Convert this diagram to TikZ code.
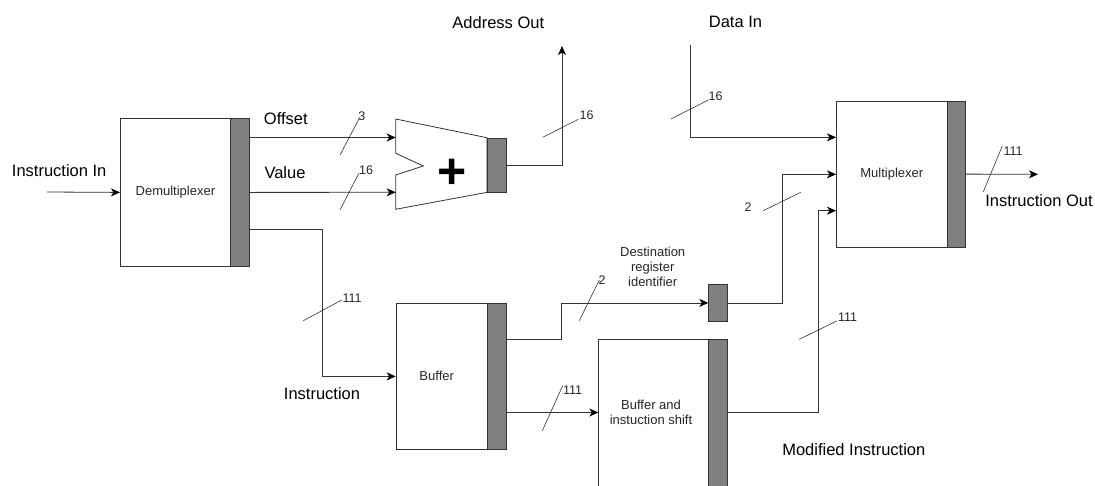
\documentclass[tikz,border=0pt]{standalone}
\usepackage{fontspec}
\setmainfont{Liberation Sans}
\usetikzlibrary{arrows.meta,calc}
\begin{document}
\begin{tikzpicture}[x=1pt,y=-1pt,
  ln/.style={draw=black!80,line width=0.8pt},
  arr/.style={ln,-{Stealth[length=9pt,width=8pt,inset=2.5pt,black]}},
  box/.style={draw=black!80,line width=0.8pt,fill=white,inner sep=0pt,anchor=north west},
  bar/.style={box,fill=black!50},
  tickln/.style={draw=black!80,line width=0.6pt},
  num/.style={font=\fontsize{12.5}{14}\selectfont,inner sep=0pt,text=black!85},
  big/.style={font=\fontsize{16.5}{19}\selectfont,inner sep=0pt},
  small/.style={font=\fontsize{13}{15}\selectfont,inner sep=0pt,text=black!85,align=center}]
\clip (0,0) rectangle (1095,485);
\fill[white] (0,0) rectangle (1095,485);

% blocks
\node[box,minimum width=110pt,minimum height=148pt] (demux) at (120,118) {};
\node[small] (demuxt) at (demux.center) {Demultiplexer};
\node[bar,minimum width=18.5pt,minimum height=148pt] (demuxbar) at (230,118) {};

\draw[ln,fill=white] (395.7,119) -- (487,137.7) -- (487,192.3) -- (395.7,209.3) -- (395.7,175) -- (423.3,166) -- (395.7,153.3) -- cycle;
\node[bar,minimum width=19pt,minimum height=54.6pt] (addbar) at (487,137.7) {};
\node[font=\fontsize{50}{50}\selectfont\bfseries,inner sep=0pt,anchor=base] (plus) at (451.7,188) {+};
\coordinate (addin1) at (395.7,137.5);
\coordinate (addin2) at (395.7,192.3);

\node[box,minimum width=110.7pt,minimum height=146pt] (mux) at (836,100.7) {};
\node[small] (muxt) at (mux.center) {Multiplexer};
\node[bar,minimum width=18.3pt,minimum height=146pt] (muxbar) at (946.7,100.7) {};
\coordinate (muxin1) at (836,137.3);
\coordinate (muxin2) at (836,174.3);
\coordinate (muxin3) at (836,210.7);

\node[box,minimum width=91.6pt,minimum height=146.6pt] (buf) at (395.7,302.7) {};
\node[small] (buft) at (436.7,375.7) {Buffer};
\node[bar,minimum width=18.7pt,minimum height=146.6pt] (bufbar) at (487.3,302.7) {};

\node[bar,minimum width=18.4pt,minimum height=36.4pt] (reg) at (708.3,284.3) {};

\node[box,minimum width=110pt,minimum height=170pt] (shift) at (598.3,339) {};
\node[bar,minimum width=18.4pt,minimum height=170pt] (shiftbar) at (708.3,339) {};
\node[small] (shiftt) at (651,412.5) {Buffer and\\instuction shift};

% free ends
\coordinate (inL) at (47,192);
\coordinate (dm1) at (248.5,137.5);
\coordinate (dm3) at (248.5,229);
\coordinate (addrout) at (562,46);
\coordinate (datain) at (690,45);
\coordinate (bo1) at (506,339);
\coordinate (bo2) at (506,412.5);
\coordinate (shout) at (726.7,412.7);
\coordinate (mout) at (1038,174.3);

% connectors
\draw[arr] (inL) -- (demux.west);
\draw[arr] (dm1) -- (addin1);
\draw[arr] (demuxbar.east) -- (addin2);
\draw[arr] (dm3) -- ++(73.5,0) |- (buf.west);
\draw[arr] (addbar.east) -| (addrout);
\draw[arr] (datain) |- (muxin1);
\draw[arr] (reg.east) -- ++(55,0) |- (muxin2);
\draw[arr] (shout) -- ++(91.6,0) |- (muxin3);
\draw[arr] (bo1) -- ++(55,0) |- (reg.west);
\draw[arr] (bo2) -- (bo2 -| shift.west);
\draw[arr] (muxbar.east) -- (mout);

% bus width ticks
\draw[tickln] (340,155) -- (359.3,118.3);
\node[num] (n3) at (361.8,116.5) {3};
\draw[tickln] (340,210) -- (359,173);
\node[num] (n16a) at (366,170) {16};
\draw[tickln] (542.7,137.3) -- (578.3,119.3);
\node[num] (n16b) at (586.5,115) {16};
\draw[tickln] (671,119) -- (708.3,100);
\node[num] (n16c) at (715.5,96) {16};
\draw[tickln] (303.3,320.7) -- (341.7,300);
\node[num] (n111a) at (352,298.5) {111};
\draw[tickln] (579.3,320.7) -- (599.3,280);
\node[num] (n2a) at (602,280) {2};
\draw[tickln] (542.3,430.7) -- (562.7,385.7);
\node[num] (n111b) at (572.5,390.5) {111};
\draw[tickln] (799.3,339.3) -- (837.3,320.7);
\node[num] (n111c) at (847.5,316.7) {111};
\draw[tickln] (763.3,210.7) -- (800.7,192.3);
\node[num] (n2b) at (748,206.7) {2};
\draw[tickln] (983.3,191.7) -- (1002.3,146);
\node[num] (n111d) at (1013,151) {111};

% labels
\node[big] (lin) at (59.2,170.7) {Instruction In};
\node[big] (loff) at (285.8,118.5) {Offset};
\node[big] (lval) at (285,173) {Value};
\node[big] (laddr) at (498.3,22.7) {Address Out};
\node[big] (ldata) at (735.5,22) {Data In};
\node[big] (lout) at (1039,201) {Instruction Out};
\node[big] (linstr) at (322,394) {Instruction};
\node[big] (lmod) at (853.8,449.3) {Modified Instruction};
\node[small] (ldest) at (652.7,266.5) {Destination\\register\\identifier};
\end{tikzpicture}
\end{document}
